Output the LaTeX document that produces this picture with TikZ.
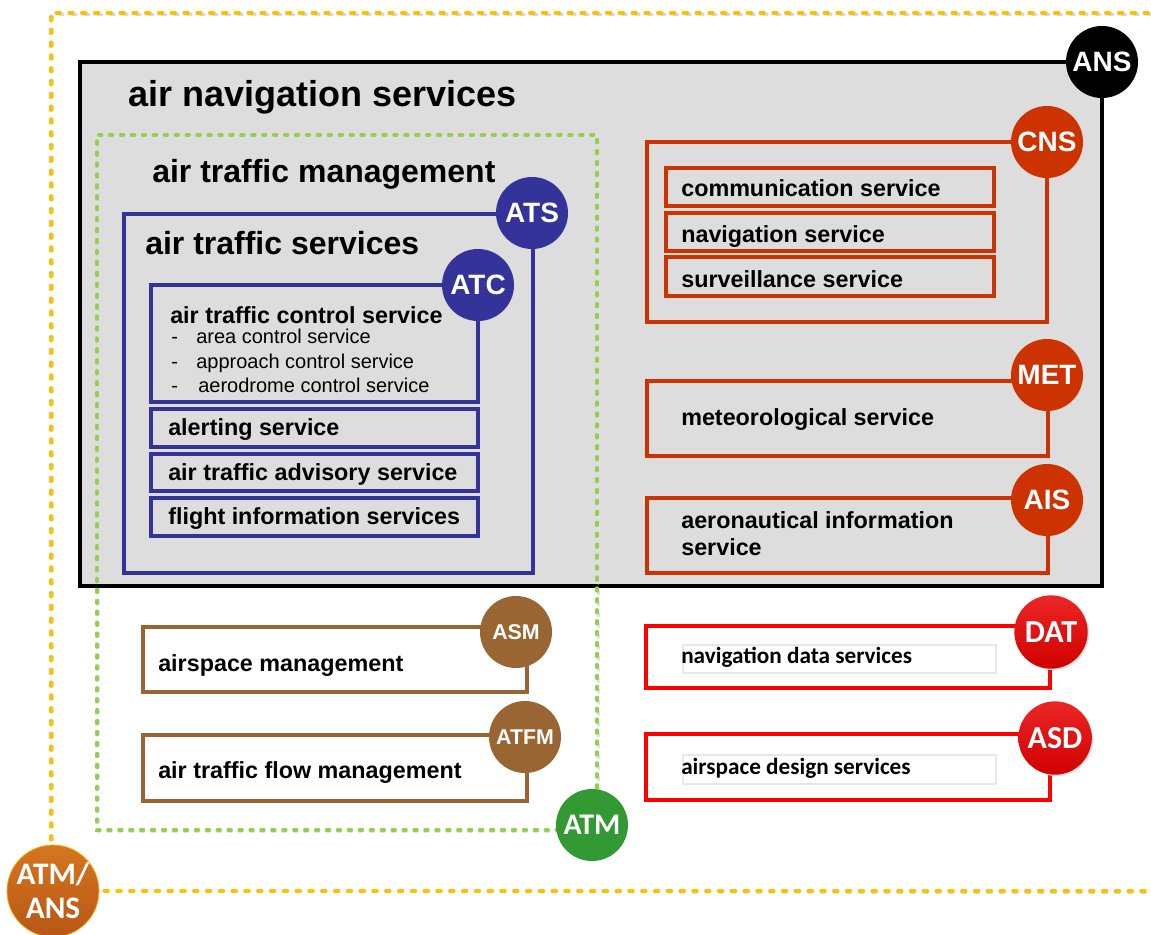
\documentclass[tikz,border=0pt]{standalone}
\usepackage{fontspec}
\setmainfont{Liberation Sans}
\newfontfamily\carl{Carlito}
\usetikzlibrary{fit}
\definecolor{ansgray}{HTML}{DDDDDD}
\definecolor{atsblue}{HTML}{333399}
\definecolor{cnsred}{HTML}{CC3300}
\definecolor{asmbrown}{HTML}{996633}
\definecolor{datred}{HTML}{FF0000}
\definecolor{datcirc}{HTML}{E80000}
\definecolor{atmgreen}{HTML}{339933}
\definecolor{dashgreen}{HTML}{92D050}
\definecolor{dashyellow}{HTML}{FFC000}
\definecolor{orangetop}{HTML}{D5761F}
\definecolor{orangebot}{HTML}{B85616}
\definecolor{shadowgray}{HTML}{D8D8D8}
\pgfdeclarelayer{paper}
\pgfdeclarelayer{back}
\pgfdeclarelayer{mid}
\pgfsetlayers{paper,back,mid,main}
\begin{document}
\begin{tikzpicture}[x=0.75pt,y=-0.75pt,
  box/.style={draw=#1, line width=2.6pt, inner sep=0pt},
  subbox/.style={draw=#1, line width=2.3pt, inner sep=0pt},
  badge/.style={circle, fill=#1, text=white, inner sep=0pt, minimum size=54pt,
    font=\bfseries\fontsize{21}{21}\selectfont},
  smallbadge/.style={badge=#1, font=\bfseries\fontsize{16}{16}\selectfont},
  calbadge/.style={circle, inner sep=0pt, minimum size=55pt, text=white,
    shading=axis, top color=#1!85!white, bottom color=#1!90!black,
    font=\carl\bfseries\fontsize{24}{24}\selectfont},
  btext/.style={anchor=base west, inner sep=0pt, font=\bfseries\fontsize{17.5}{20}\selectfont},
  ctext/.style={anchor=base west, inner sep=0pt, font=\carl\bfseries\fontsize{17.4}{20}\selectfont},
  itemtext/.style={anchor=base west, inner sep=0pt, font=\fontsize{15}{18}\selectfont},
  ydash/.style={draw=dashyellow, line width=2.6pt, line cap=round, dash pattern=on 3pt off 6.6pt},
  gdash/.style={draw=dashgreen, line width=2.5pt, line cap=round, dash pattern=on 2.3pt off 5.9pt},
  sdash/.style={draw=shadowgray, line width=2.4pt, line cap=round, shift={(1.6,1.6)}}
]
\useasboundingbox (0,0) rectangle (1151,934);
\begin{pgfonlayer}{paper}
\fill[white] (0,0) rectangle (1151,934);
\end{pgfonlayer}

% ---------------- ANS ----------------
\begin{pgfonlayer}{back}
\node[fit={(80,62) (1102,586)}, draw=black, fill=ansgray, line width=3.4pt, inner sep=0pt] (ansbox) {};
\end{pgfonlayer}
\node[badge=black] (ans) at (1102,62) {ANS};
\node[anchor=base west, inner sep=0pt, font=\bfseries\fontsize{27}{30}\selectfont] (anstitle) at (128,107) {air navigation services};

% ---------------- ATM/ANS frame ----------------
\node[circle, inner sep=0pt, minimum size=66pt, text=white, shading=axis,
  top color=orangetop, bottom color=orangebot, draw=dashyellow!70!orangetop, line width=0.6pt,
  align=center, font=\carl\bfseries\fontsize{23.5}{25.5}\selectfont] (atmans) at (53,891) {ATM/\\ANS};
\begin{pgfonlayer}{paper}
\draw[sdash, dash pattern=on 3pt off 6.6pt] (atmans.center -| 51,0) -- (51,13) -- (1160,13);
\draw[sdash, dash pattern=on 3pt off 6.6pt] (atmans.center) -- (1160,891);
\end{pgfonlayer}
\begin{pgfonlayer}{mid}
\draw[ydash] (atmans.center -| 51,0) -- (51,13) -- (1160,13);
\draw[ydash] (atmans.center) -- (1160,891);
\end{pgfonlayer}

% ---------------- ATM frame ----------------
\node[circle, inner sep=0pt, minimum size=54pt, fill=atmgreen, text=white,
  font=\carl\bfseries\fontsize{22.5}{22.5}\selectfont] (atm) at (592,825) {ATM};
\begin{pgfonlayer}{mid}
\draw[sdash, line width=2.2pt, draw=black!12, dash pattern=on 2.3pt off 5.9pt] (atm.center |- 97,830) -- (97,830) -- (97,135) -- (597,135) -- (597,0 |- atm.center);
\draw[gdash] (atm.center |- 97,830) -- (97,830) -- (97,135) -- (597,135) -- (597,0 |- atm.center);
\end{pgfonlayer}
\node[anchor=base west, inner sep=0pt, font=\bfseries\fontsize{24}{28}\selectfont] (atmtitle) at (152,183) {air traffic management};

% ---------------- ATS ----------------
\node[box=atsblue, fit={(124,214) (533,573)}] (atsbox) {};
\node[badge=atsblue] (ats) at (532,213) {ATS};
\node[anchor=base west, inner sep=0pt, font=\bfseries\fontsize{24}{28}\selectfont] (atstitle) at (145,254) {air traffic services};

\node[subbox=atsblue, fit={(151,285) (478,402)}] (atcbox) {};
\node[badge=atsblue] (atc) at (478,285) {ATC};
\node[btext] (atctitle) at (170,323) {air traffic control service};
\node[itemtext] (d1) at (171,343) {-};
\node[itemtext] (i1) at (196,343) {area control service};
\node[itemtext] (d2) at (171,368) {-};
\node[itemtext] (i2) at (196,368) {approach control service};
\node[itemtext] (d3) at (171,392) {-};
\node[itemtext] (i3) at (198,392) {aerodrome control service};

\node[subbox=atsblue, fit={(151,409) (478,447)}] (alertbox) {};
\node[btext] (alerttext) at (168,435) {alerting service};
\node[subbox=atsblue, fit={(151,454) (478,491)}] (advbox) {};
\node[btext] (advtext) at (168,480) {air traffic advisory service};
\node[subbox=atsblue, fit={(151,498) (478,536)}] (fisbox) {};
\node[btext] (fistext) at (168,524) {flight information services};

% ---------------- CNS ----------------
\node[box=cnsred, fit={(647,142) (1047,322)}] (cnsbox) {};
\node[badge=cnsred] (cns) at (1047,142) {CNS};
\node[subbox=cnsred, fit={(666,168) (994,206)}] (combox) {};
\node[btext] (comtext) at (681,197) {communication service};
\node[subbox=cnsred, fit={(666,213) (994,251)}] (navbox) {};
\node[btext] (navtext) at (681,243) {navigation service};
\node[subbox=cnsred, fit={(666,257) (994,296)}] (surbox) {};
\node[btext] (surtext) at (681,287) {surveillance service};

% ---------------- MET / AIS ----------------
\node[box=cnsred, fit={(647,381) (1048,456)}] (metbox) {};
\node[badge=cnsred] (met) at (1047,375) {MET};
\node[btext] (mettext) at (681,425) {meteorological service};

\node[box=cnsred, fit={(647,498) (1048,573)}] (aisbox) {};
\node[badge=cnsred] (ais) at (1047,500) {AIS};
\node[btext] (aistext1) at (681,528) {aeronautical information};
\node[btext] (aistext2) at (681,555) {service};

% ---------------- ASM / ATFM ----------------
\node[box=asmbrown, fit={(143,627) (527,692)}] (asmbox) {};
\node[smallbadge=asmbrown] (asm) at (516,632) {ASM};
\node[btext] (asmtext) at (158,671) {airspace management};

\node[box=asmbrown, fit={(143,735) (527,801)}] (atfmbox) {};
\node[smallbadge=asmbrown] (atfm) at (525,737) {ATFM};
\node[btext] (atfmtext) at (158,778) {air traffic flow management};

% ---------------- DAT / ASD ----------------
\node[box=datred, fit={(646,626) (1050,688)}] (datbox) {};
\node[draw=black!9, line width=0.8pt, fit={(683,645) (996,673)}, inner sep=0pt] (datinner) {};
\fill[black!12] (1052.5,633.5) circle[radius=36.5];
\node[calbadge=datcirc] (dat) at (1051,632) {DAT};
\node[ctext] (dattext) at (681,663) {navigation data services};

\node[box=datred, fit={(646,734) (1050,800)}] (asdbox) {};
\node[draw=black!9, line width=0.8pt, fit={(683,755) (996,784)}, inner sep=0pt] (asdinner) {};
\fill[black!12] (1056.5,739.5) circle[radius=36.5];
\node[calbadge=datcirc] (asd) at (1055,738) {ASD};
\node[ctext] (asdtext) at (681,774) {airspace design services};
\end{tikzpicture}
\end{document}
